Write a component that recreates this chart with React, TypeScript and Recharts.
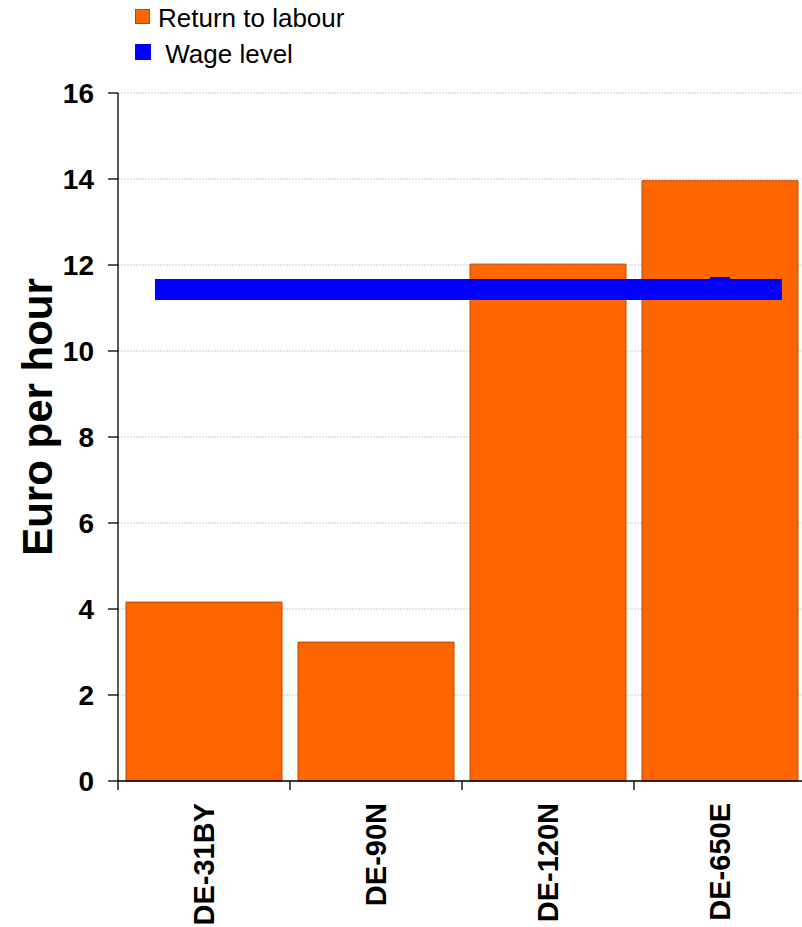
import React from 'react';
import {
  ComposedChart,
  Bar,
  Line,
  XAxis,
  YAxis,
  CartesianGrid,
  Legend,
} from 'recharts';

const categories = ['DE-31BY', 'DE-90N', 'DE-120N', 'DE-650E'];
const returnToLabour = [4.16, 3.23, 12.02, 13.96];
const yTicks = [0, 2, 4, 6, 8, 10, 12, 14, 16];
const seriesNames = ['Return to labour', ' Wage level'];

// Wage level band: level and its span along the category axis (in category units)
const wageLevel = [11.43, 11.43, 11.43];
const wagePositions = [0.215, 3.5, 3.86];

const data = categories.map((name, i) => ({ name, ret: returnToLabour[i] }));
const wageData = wagePositions.map((pos, i) => ({ pos, wage: wageLevel[i] }));

const FONT = '"Liberation Sans", Arial, Helvetica, sans-serif';
const CHART_W = 806;
const CHART_H = 927;
const Y_AXIS_W = 118;
const MARGIN = { top: 93, right: 0, bottom: 0, left: 0 };
const X_AXIS_H = 146;
const BAND = (CHART_W - Y_AXIS_W - MARGIN.left - MARGIN.right) / categories.length;

const XTick = (props: any) => {
  const { x, y, payload } = props;
  const bx = x - BAND / 2;
  return (
    <g>
      <line x1={bx} x2={bx} y1={y} y2={y + 9} stroke="#000" strokeWidth={1.3} />
      <text
        x={x}
        y={y + 22}
        transform={`rotate(-90, ${x}, ${y + 22})`}
        textAnchor="end"
        dy="0.36em"
        fontFamily={FONT}
        fontWeight="bold"
        fontSize={29}
        fill="#000"
      >
        {payload.value}
      </text>
    </g>
  );
};

const WageDot = (props: any) => {
  const { cx, cy, index } = props;
  if (index !== 1 || cx == null || cy == null) return <g key={`d${index}`} />;
  return <rect key={`d${index}`} x={cx - 10} y={cy - 12.5} width={20} height={22} fill="#0000FF" />;
};

const LegendContent = () => (
  <div style={{ position: 'relative', width: 400, height: 70, fontFamily: FONT, color: '#000' }}>
    <div style={{ position: 'absolute', left: 135, top: 9, width: 15, height: 15, background: '#FF6600', border: '1px solid #B84A00', boxSizing: 'border-box' }} />
    <div style={{ position: 'absolute', left: 158, top: 3, fontSize: 26, lineHeight: '30px', whiteSpace: 'pre' }}>{seriesNames[0]}</div>
    <div style={{ position: 'absolute', left: 135, top: 44, width: 16, height: 16, background: '#0000FF' }} />
    <div style={{ position: 'absolute', left: 158, top: 39, fontSize: 26, lineHeight: '30px', whiteSpace: 'pre' }}>{seriesNames[1]}</div>
  </div>
);

const YLabel = () => (
  <text
    x={52}
    y={417}
    transform="rotate(-90, 52, 417)"
    textAnchor="middle"
    fontFamily={FONT}
    fontWeight="bold"
    fontSize={42}
    fill="#000"
  >
    Euro per hour
  </text>
);

export default function App() {
  return (
    <div style={{ position: 'fixed', left: 0, top: 0, width: 802, height: 927, overflow: 'hidden', background: '#fff' }}>
      <ComposedChart width={CHART_W} height={CHART_H} data={data} margin={MARGIN} barCategoryGap={8}>
        <CartesianGrid vertical={false} stroke="#c8c8c8" strokeDasharray="2 1" />
        <XAxis
          xAxisId="cat"
          dataKey="name"
          type="category"
          height={X_AXIS_H}
          axisLine={{ stroke: '#000', strokeWidth: 1.3 }}
          tickLine={false}
          tickSize={0}
          tickMargin={0}
          interval={0}
          tick={<XTick />}
        />
        <XAxis xAxisId="pos" type="number" dataKey="pos" domain={[0, 4]} allowDataOverflow hide />
        <YAxis
          width={Y_AXIS_W}
          domain={[0, 16]}
          ticks={yTicks}
          interval={0}
          tickSize={10}
          tickMargin={14}
          axisLine={{ stroke: '#000', strokeWidth: 1.3 }}
          tickLine={{ stroke: '#000', strokeWidth: 1.3 }}
          tick={{ fontFamily: FONT, fontWeight: 'bold', fontSize: 28, fill: '#000' }}
          label={<YLabel />}
        />
        <Legend
          layout="vertical"
          align="center"
          verticalAlign="middle"
          content={<LegendContent />}
          wrapperStyle={{ position: 'absolute', top: 0, left: 0, width: 400, height: 70 }}
        />
        <Bar
          xAxisId="cat"
          dataKey="ret"
          name={seriesNames[0]}
          fill="#FF6600"
          stroke="#B84A00"
          strokeWidth={1}
          isAnimationActive={false}
        />
        <Line
          xAxisId="pos"
          data={wageData}
          dataKey="wage"
          name={seriesNames[1]}
          stroke="#0000FF"
          strokeWidth={21}
          strokeLinecap="butt"
          dot={<WageDot />}
          activeDot={false}
          isAnimationActive={false}
        />
      </ComposedChart>
    </div>
  );
}
